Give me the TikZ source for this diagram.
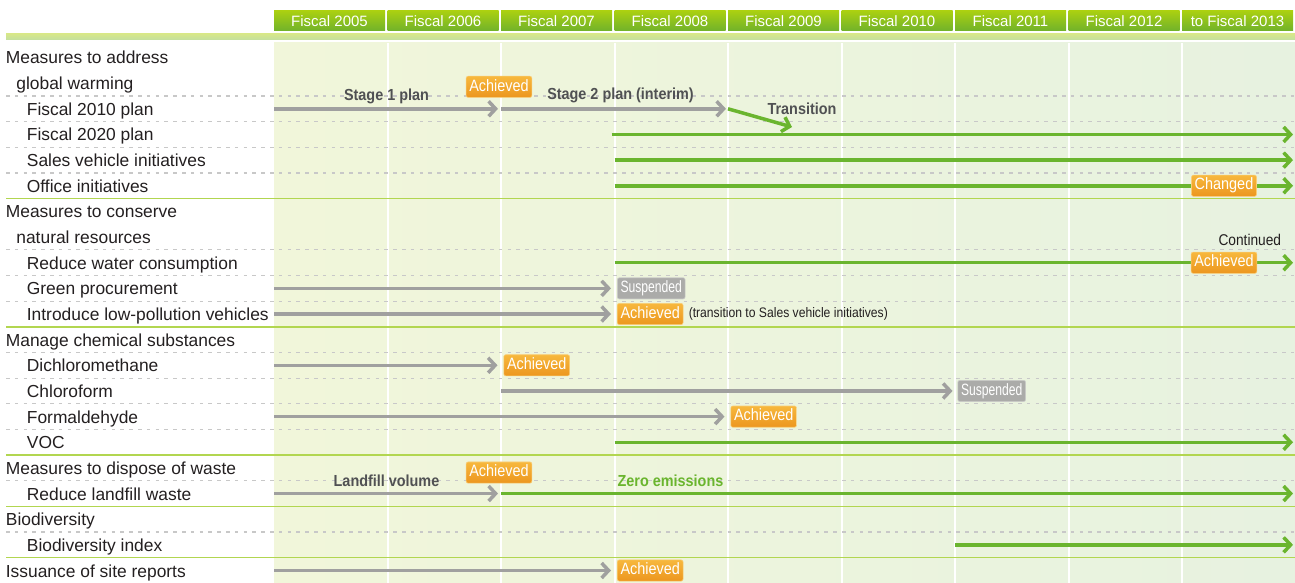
\documentclass[tikz,border=0pt]{standalone}
\usepackage{fontspec}
\setmainfont{Liberation Sans}
\newfontfamily\condfont[FakeStretch=0.88]{Liberation Sans}
\newfontfamily\lblfont[FakeStretch=0.9]{Liberation Sans}
\newfontfamily\narrowfont[FakeStretch=0.74]{Liberation Sans}
\usetikzlibrary{arrows.meta, calc}
\definecolor{inkDark}{HTML}{231F20}
\definecolor{labelGray}{HTML}{505153}
\definecolor{barGray}{HTML}{A0A09F}
\definecolor{barGreen}{HTML}{6AB52E}
\definecolor{headTop}{HTML}{AAD011}
\definecolor{headBot}{HTML}{70B22B}
\definecolor{bandTop}{HTML}{D6E78A}
\definecolor{bandBot}{HTML}{C3DFA0}
\definecolor{paleL}{HTML}{F1F6DA}
\definecolor{paleR}{HTML}{E7F2E0}
\definecolor{ruleGreen}{HTML}{B2D650}
\definecolor{dashGray}{HTML}{C8C8C8}
\definecolor{tagTop}{HTML}{F7B83D}
\definecolor{tagBot}{HTML}{EC961F}
\definecolor{tagGray}{HTML}{ABABA9}

\begin{document}
\begin{tikzpicture}[x=0.5pt, y=-0.5pt,
  yearbox/.style={top color=headTop, bottom color=headBot, minimum width=55.5pt, minimum height=10pt,
                  inner sep=0pt, text=white, font=\fontsize{7.5}{8}\selectfont},
  rowtxt/.style={anchor=base west, inner sep=0pt, text=inkDark, font=\fontsize{8.7}{10}\selectfont},
  dashrule/.style={dashGray, line width=0.6pt, dash pattern=on 1.8pt off 2.6pt},
  greenrule/.style={ruleGreen, line width=0.7pt},
  tbar/.style={draw=#1, line width=1.75pt, -{Straight Barb[length=3.5pt, width=7.5pt]}},
  stamp/.style={rounded corners=1pt, inner xsep=1.6pt, inner ysep=1.4pt, text height=6pt, text depth=1.8pt,
                text=white, font=\condfont\fontsize{8.2}{9}\selectfont},
  ostamp/.style={stamp, top color=tagTop, bottom color=tagBot, draw=tagTop!70!white, line width=0.3pt},
  gstamp/.style={stamp, fill=tagGray, draw=tagGray!60!white, line width=0.3pt,
                 font=\narrowfont\fontsize{8.2}{9}\selectfont},
  barlbl/.style={anchor=base, inner sep=0pt, text=#1, font=\lblfont\bfseries\fontsize{8}{9}\selectfont}]
  \useasboundingbox (0,0) rectangle (1295,583);
  % --- backdrop and columns ---
  \shade[left color=paleL, right color=paleR] (274,43) rectangle (1295,583);
  \foreach \i in {0,...,9}{\coordinate (c\i) at (274+113.5*\i,0);}
  \foreach \i in {1,...,8}{\draw[white, line width=1pt] (274+113.5*\i,43) -- (274+113.5*\i,583);}
  \shade[top color=bandTop, bottom color=bandBot] (6,34) rectangle (1295,40);
  \foreach \i/\yr in {0/Fiscal 2005, 1/Fiscal 2006, 2/Fiscal 2007, 3/Fiscal 2008, 4/Fiscal 2009,
                      5/Fiscal 2010, 6/Fiscal 2011, 7/Fiscal 2012, 8/to Fiscal 2013}{
    \node[yearbox] (y\i) at (274+113.5*\i+55.5,21) {\yr};
  }
  % --- rows ---
  \foreach \k in {0,...,20}{\coordinate (r\k) at (0,57.5+25.65*\k);}
  \foreach \k in {1,2,3,4,7,8,9,11,12,13,14,16,18}{\draw[dashrule] (6,70.3+25.65*\k) -- (1295,70.3+25.65*\k);}
  \foreach \k in {5,10,15,17,19}{\draw[greenrule] (6,70.3+25.65*\k) -- (1295,70.3+25.65*\k);}
  \foreach \k/\ind/\txt in {0/0/Measures to address, 1/1/global warming, 2/2/Fiscal 2010 plan,
      3/2/Fiscal 2020 plan, 4/2/Sales vehicle initiatives, 5/2/Office initiatives,
      6/0/Measures to conserve, 7/1/natural resources, 8/2/Reduce water consumption,
      9/2/Green procurement, 10/2/Introduce low-pollution vehicles, 11/0/Manage chemical substances,
      12/2/Dichloromethane, 13/2/Chloroform, 14/2/Formaldehyde, 15/2/VOC,
      16/0/Measures to dispose of waste, 17/2/Reduce landfill waste, 18/0/Biodiversity,
      19/2/Biodiversity index, 20/0/Issuance of site reports}{
    \node[rowtxt] (t\k) at (5.5+10.5*\ind,64+25.65*\k) {\txt};
  }
  % --- global warming ---
  \coordinate (trEnd) at (792,127);
  \draw[tbar=barGray, shorten >=1.5pt] (c0 |- r2) -- (c2 |- r2);
  \draw[tbar=barGray, shorten >=1pt] (c2 |- r2) -- (c4 |- r2);
  \draw[tbar=barGreen] (c4 |- r2) -- (trEnd);
  \node[barlbl=labelGray] (st1) at ($(c1 |- r2)+(-1,-8)$) {Stage 1 plan};
  \node[barlbl=labelGray] (st2) at ($(c3 |- r2)+(6,-9)$) {Stage 2 plan (interim)};
  \node[barlbl=labelGray] (trn) at ($(c4 |- r2)+(74,5.5)$) {Transition};
  \node[ostamp] (a2) at ($(c2 |- r2)+(-2,-22)$) {Achieved};
  \draw[tbar=barGreen, shorten <=-1.5pt, shorten >=1.25pt] (c3 |- r3) -- (c9 |- r3);
  \draw[tbar=barGreen, shorten >=1.25pt] (c3 |- r4) -- (c9 |- r4);
  \draw[tbar=barGreen, shorten >=1.25pt] (c3 |- r5) -- (c9 |- r5);
  \node[ostamp] (a5) at ($(c8 |- r5)+(42,0)$) {Changed};
  % --- natural resources ---
  \draw[tbar=barGreen, shorten >=1.25pt] (c3 |- r8) -- (c9 |- r8);
  \node[ostamp] (a8) at ($(c8 |- r8)+(42,0)$) {Achieved};
  \node[anchor=base east, inner sep=0pt, text=inkDark, font=\condfont\fontsize{7.8}{9}\selectfont]
    (cont) at ($(c9 |- r8)+(-14,-17.5)$) {Continued};
  \node[gstamp, anchor=west] (a9) at ($(c3 |- r9)+(2.5,0)$) {Suspended};
  \draw[tbar=barGray, shorten >=3pt] (c0 |- r9) -- (a9.west);
  \node[ostamp, anchor=west] (a10) at ($(c3 |- r10)+(2.5,0)$) {Achieved};
  \draw[tbar=barGray, shorten >=3pt] (c0 |- r10) -- (a10.west);
  \node[anchor=west, inner sep=0pt, text=inkDark, font=\condfont\fontsize{6.9}{8}\selectfont]
    (note) at ($(a10.east)+(5,0)$) {(transition to Sales vehicle initiatives)};
  % --- chemical substances ---
  \node[ostamp, anchor=west] (a12) at ($(c2 |- r12)+(2.5,0)$) {Achieved};
  \draw[tbar=barGray, shorten >=3pt] (c0 |- r12) -- (a12.west);
  \node[gstamp, anchor=west] (a13) at ($(c6 |- r13)+(2.5,0)$) {Suspended};
  \draw[tbar=barGray, shorten >=2.5pt] (c2 |- r13) -- (a13.west);
  \node[ostamp, anchor=west] (a14) at ($(c4 |- r14)+(2.5,0)$) {Achieved};
  \draw[tbar=barGray, shorten >=3pt] (c0 |- r14) -- (a14.west);
  \draw[tbar=barGreen, shorten >=1.25pt] (c3 |- r15) -- (c9 |- r15);
  % --- waste ---
  \draw[tbar=barGray, shorten >=1.5pt] (c0 |- r17) -- (c2 |- r17);
  \draw[tbar=barGreen, shorten >=1.25pt] (c2 |- r17) -- (c9 |- r17);
  \node[barlbl=labelGray] (lv) at ($(c1 |- r17)+(-1,-7)$) {Landfill volume};
  \node[barlbl=barGreen] (ze) at ($(c3 |- r17)+(56,-7)$) {Zero emissions};
  \node[ostamp] (a17) at ($(c2 |- r17)+(-2,-21)$) {Achieved};
  % --- biodiversity and site reports ---
  \draw[tbar=barGreen, shorten >=1.25pt] (c6 |- r19) -- (c9 |- r19);
  \node[ostamp, anchor=west] (a20) at ($(c3 |- r20)+(2.5,0)$) {Achieved};
  \draw[tbar=barGray, shorten >=3pt] (c0 |- r20) -- (a20.west);
\end{tikzpicture}
\end{document}
